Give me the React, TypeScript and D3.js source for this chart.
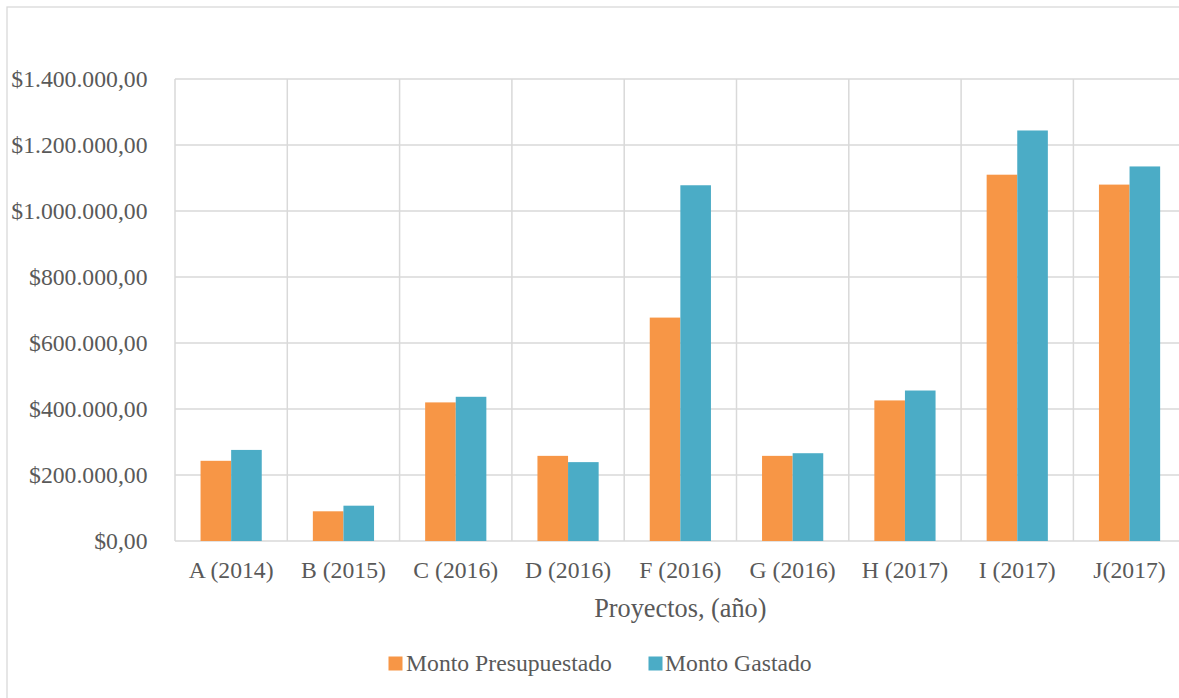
import React from "react";
import * as d3 from "d3";

// Proyectos y montos (presupuestado vs. gastado)
const categories = [
  "A (2014)",
  "B (2015)",
  "C (2016)",
  "D (2016)",
  "F (2016)",
  "G (2016)",
  "H (2017)",
  "I (2017)",
  "J(2017)",
];
const montoPresupuestado = [243000, 90000, 420000, 258000, 677000, 258000, 426000, 1110000, 1080000];
const montoGastado = [276000, 107000, 437000, 239000, 1078000, 266000, 456000, 1244000, 1135000];
const seriesNames = ["Monto Presupuestado", "Monto Gastado"];
const yTicks = [0, 200000, 400000, 600000, 800000, 1000000, 1200000, 1400000];

const W = 1179;
const H = 698;
const plot = { left: 175, right: 1185.7, top: 79, bottom: 541 };
const colors = ["#F79646", "#4BACC6"];
const gridColor = "#D9D9D9";
const textColor = "#595959";
const font = "'Liberation Serif', 'Times New Roman', serif";

const esLocale = d3.formatLocale({
  decimal: ",",
  thousands: ".",
  grouping: [3],
  currency: ["$", ""],
});
const fmt = esLocale.format("$,.2f");

export default function App() {
  const x = d3.scaleBand<string>().domain(categories).range([plot.left, plot.right]).paddingInner(0).paddingOuter(0);
  const xInner = d3
    .scaleBand<string>()
    .domain(seriesNames)
    .range([0, x.bandwidth()])
    .paddingInner(0)
    .paddingOuter(0.835);
  const y = d3.scaleLinear().domain([0, 1400000]).range([plot.bottom, plot.top]);

  const series = [montoPresupuestado, montoGastado];
  const gridXs = categories.map((c) => x(c) as number).concat([plot.right]);

  return (
    <svg
      width={W}
      height={H}
      style={{ position: "absolute", left: 0, top: 0, background: "#fff" }}
      fontFamily={font}
    >
      <rect x={7} y={7} width={W + 20} height={H + 20} fill="#fff" stroke={gridColor} strokeWidth={1.3} />

      {/* horizontal gridlines */}
      {yTicks.map((t) => (
        <line key={"h" + t} x1={plot.left} x2={plot.right} y1={y(t)} y2={y(t)} stroke={gridColor} strokeWidth={1.5} />
      ))}
      {/* vertical gridlines */}
      {gridXs.map((gx, i) => (
        <line key={"v" + i} x1={gx} x2={gx} y1={plot.top} y2={plot.bottom} stroke={gridColor} strokeWidth={1.5} />
      ))}

      {/* bars */}
      {series.map((vals, si) =>
        vals.map((v, ci) => {
          const bx = (x(categories[ci]) as number) + (xInner(seriesNames[si]) as number);
          return (
            <rect
              key={si + "-" + ci}
              x={bx}
              y={y(v)}
              width={xInner.bandwidth()}
              height={y(0) - y(v)}
              fill={colors[si]}
            />
          );
        })
      )}

      {/* y tick labels */}
      {yTicks.map((t) => (
        <text key={"yt" + t} x={147.5} y={y(t) + 7.5} textAnchor="end" fontSize={23.7} fill={textColor}>
          {fmt(t)}
        </text>
      ))}

      {/* category labels */}
      {categories.map((c) => (
        <text
          key={"xt" + c}
          x={(x(c) as number) + x.bandwidth() / 2}
          y={577.5}
          textAnchor="middle"
          fontSize={23.7}
          fill={textColor}
        >
          {c}
        </text>
      ))}

      {/* axis title */}
      <text x={(plot.left + plot.right) / 2} y={617} textAnchor="middle" fontSize={26.3} fill={textColor}>
        Proyectos, (año)
      </text>

      {/* legend */}
      <rect x={388.5} y={656.5} width={14} height={14} fill={colors[0]} />
      <text x={406} y={670.5} fontSize={23.7} fill={textColor}>
        {seriesNames[0]}
      </text>
      <rect x={648.5} y={656.5} width={14} height={14} fill={colors[1]} />
      <text x={665} y={670.5} fontSize={23.7} fill={textColor}>
        {seriesNames[1]}
      </text>
    </svg>
  );
}
